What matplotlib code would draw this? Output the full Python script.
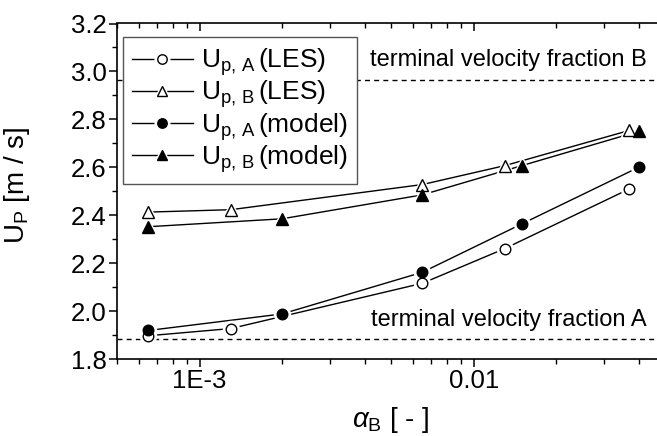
import matplotlib
matplotlib.use("Agg")
import matplotlib.pyplot as plt
from matplotlib.lines import Line2D
from matplotlib.legend_handler import HandlerTuple
from matplotlib.ticker import FixedLocator, FuncFormatter, NullFormatter, LogLocator, MultipleLocator

plt.rcParams['font.family'] = ['Liberation Sans', 'DejaVu Sans']
plt.rcParams['mathtext.fontset'] = 'custom'
plt.rcParams['mathtext.rm'] = 'Liberation Sans'
plt.rcParams['mathtext.it'] = 'Liberation Sans:italic'
plt.rcParams['mathtext.bf'] = 'Liberation Sans:bold'

# ---- data ----
alpha_les = [6.5e-4, 1.3e-3, 6.5e-3, 1.3e-2, 3.7e-2]
up_a_les = [1.897, 1.927, 2.116, 2.261, 2.510]
up_b_les = [2.413, 2.423, 2.528, 2.607, 2.754]

alpha_model = [6.5e-4, 2.0e-3, 6.5e-3, 1.5e-2, 4.0e-2]
up_a_model = [1.919, 1.988, 2.162, 2.364, 2.600]
up_b_model = [2.352, 2.385, 2.485, 2.607, 2.750]

terminal_a = 1.885
terminal_b = 2.966

labels = [r'U$_{\mathrm{p,\,A}}\,$(LES)', r'U$_{\mathrm{p,\,B}}\,$(LES)',
          r'U$_{\mathrm{p,\,A}}\,$(model)', r'U$_{\mathrm{p,\,B}}\,$(model)']
xtick_vals = [1e-3, 1e-2]
xtick_labels = ['1E-3', '0.01']

fig = plt.figure(figsize=(6.57, 4.36), dpi=100)
ax = fig.add_axes([117 / 657, 1 - 359 / 436, (665.3 - 117) / 657, (359 - 23.5) / 436])

series = [
    (alpha_les, up_a_les, 'o', 'white', 7.6),
    (alpha_les, up_b_les, '^', 'white', 8.3),
    (alpha_model, up_a_model, 'o', 'black', 7.6),
    (alpha_model, up_b_model, '^', 'black', 8.3),
]
handles = []
for xs, ys, mk, fc, ms in series:
    ax.plot(xs, ys, '-', color='black', lw=1.0, zorder=2, clip_on=False)
    ax.plot(xs, ys, linestyle='none', marker=mk, ms=ms + 4.0, mfc='white',
            mec='white', zorder=3, clip_on=False)
    ax.plot(xs, ys, linestyle='none', marker=mk, ms=ms, mfc=fc,
            mec='black', mew=1.0, zorder=4, clip_on=False)
    handles.append((Line2D([], [], color='black', lw=1.0),
                    Line2D([], [], linestyle='none', marker=mk, ms=ms + 3.0, mfc='white', mec='white'),
                    Line2D([], [], linestyle='none', marker=mk, ms=ms - 0.8, mfc=fc, mec='black', mew=1.0)))

ax.axhline(terminal_a, color='black', lw=1.0, ls=(0, (3.6, 3.0)), zorder=1)
ax.axhline(terminal_b, color='black', lw=1.0, ls=(0, (3.6, 3.0)), zorder=1)

ax.text(0.0427, 3.021, 'terminal velocity fraction B', ha='right', va='baseline', fontsize=17)
ax.text(0.0427, 1.938, 'terminal velocity fraction A', ha='right', va='baseline', fontsize=17)

ax.set_xscale('log')
ax.set_xlim(5e-4, 0.05)
ax.set_ylim(1.8, 3.2)

ax.xaxis.set_major_locator(FixedLocator(xtick_vals))
ax.xaxis.set_major_formatter(FuncFormatter(lambda v, p: xtick_labels[xtick_vals.index(v)] if v in xtick_vals else ''))
ax.xaxis.set_minor_locator(LogLocator(base=10, subs=[2, 3, 4, 5, 6, 7, 8, 9]))
ax.xaxis.set_minor_formatter(NullFormatter())
ax.yaxis.set_major_locator(MultipleLocator(0.2))
ax.yaxis.set_minor_locator(MultipleLocator(0.1))
ax.yaxis.set_major_formatter(FuncFormatter(lambda v, p: f'{v:.1f}'))

ax.tick_params(axis='both', which='major', direction='out', length=6, width=1.1, labelsize=18.5, pad=1.5)
ax.tick_params(axis='both', which='minor', direction='out', length=3.5, width=1.0)
for s in ['left', 'bottom', 'top']:
    ax.spines[s].set_linewidth(1.2)
ax.spines['right'].set_visible(False)

# top axis ticks pointing inward
tx = ax.twiny()
tx.set_xscale('log')
tx.set_xlim(ax.get_xlim())
tx.xaxis.set_major_locator(FixedLocator(xtick_vals))
tx.xaxis.set_minor_locator(LogLocator(base=10, subs=[2, 3, 4, 5, 6, 7, 8, 9]))
tx.xaxis.set_major_formatter(NullFormatter())
tx.xaxis.set_minor_formatter(NullFormatter())
tx.tick_params(axis='x', which='major', direction='in', length=6, width=1.1)
tx.tick_params(axis='x', which='minor', direction='in', length=3.5, width=1.0)
for s in tx.spines.values():
    s.set_visible(False)

ax.set_ylabel(r'U$_{\mathrm{P}}$ [m / s]', fontsize=20)
ax.yaxis.set_label_coords((32 - 117) / 548.3, (359 - 185) / 335.5)
ax.set_xlabel(r'$\alpha_{\mathrm{B}}$ [ - ]', fontsize=20, labelpad=8)

leg = fig.legend(handles, labels, loc='upper left', bbox_to_anchor=(122.7 / 657, 1 - 37.3 / 436),
                 handler_map={tuple: HandlerTuple(ndivide=1)}, fontsize=19, frameon=True,
                 fancybox=False, edgecolor='#555555', framealpha=1.0, handlelength=2.3,
                 handletextpad=0.3, labelspacing=0.02, borderpad=0.35, borderaxespad=0, numpoints=1)
leg.get_frame().set_linewidth(1.0)
leg.set_zorder(10)

fig.savefig('out.png', dpi=100)
